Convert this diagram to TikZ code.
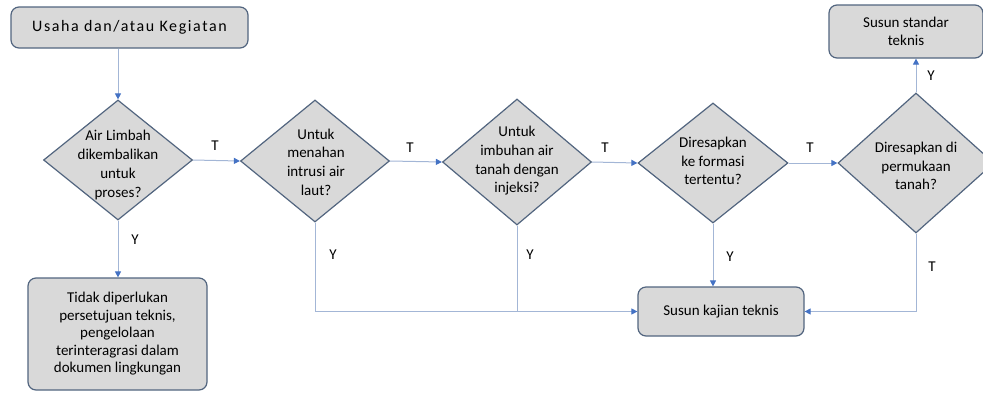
\documentclass[tikz,border=0pt]{standalone}
\usepackage{fontspec}
\setmainfont{Carlito}
\usetikzlibrary{shapes.geometric,arrows.meta}
\definecolor{boxfill}{HTML}{D9D9D9}
\definecolor{boxline}{HTML}{52657F}
\definecolor{connc}{HTML}{A3B6D6}
\definecolor{tipc}{HTML}{4472C4}
\begin{document}
\begin{tikzpicture}[x=1pt,y=-1pt,
  box/.style={draw=boxline, fill=boxfill, rounded corners=8pt, line width=1.2pt, align=center, inner sep=0pt, font=\fontsize{15}{18}\selectfont},
  dia/.style={draw=boxline, fill=boxfill, diamond, line width=1.2pt, inner sep=0pt},
  dtext/.style={align=center, inner sep=0pt, font=\fontsize{15}{18.7}\selectfont},
  connline/.style={draw=connc, line width=1pt},
  arr/.style={connline, -{Triangle[length=6pt,width=6pt,color=tipc,fill=tipc]}},
  lbl/.style={inner sep=0pt, font=\fontsize{15}{17}\selectfont}]
\useasboundingbox (0,0) rectangle (983,392);

\node[box, minimum width=237pt, minimum height=41pt, font=\fontsize{16}{18}\selectfont\addfontfeature{LetterSpace=10}] (top) at (129.5,27.5) {Usaha dan/atau Kegiatan};

\node[dia, minimum width=149pt, minimum height=120pt] (d1) at (118,160) {};
\node[dtext] (d1t) at (118,165) {Air Limbah\\dikembalikan\\untuk\\proses?};

\node[dia, minimum width=149pt, minimum height=122pt] (d2) at (315,161) {};
\node[dtext] (d2t) at (316,162) {Untuk\\menahan\\intrusi  air\\laut?};

\node[dia, minimum width=149pt, minimum height=126pt] (d3) at (517,162) {};
\node[dtext] (d3t) at (517,161) {Untuk\\imbuhan air\\tanah dengan\\injeksi?};

\node[dia, minimum width=150pt, minimum height=120pt] (d4) at (713,163) {};
\node[dtext] (d4t) at (713,161) {Diresapkan\\ke formasi\\tertentu?};

\node[dia, minimum width=156pt, minimum height=140pt] (d5) at (916,163) {};
\node[dtext] (d5t) at (916,166) {Diresapkan di\\permukaan\\tanah?};

\node[box, minimum width=179pt, minimum height=112pt, font=\fontsize{15}{17.5}\selectfont] (tidak) at (117.5,334) {Tidak diperlukan\\persetujuan  teknis,\\pengelolaan\\terinteragrasi  dalam\\dokumen lingkungan};

\node[box, minimum width=154pt, minimum height=53pt] (standar) at (906,31.5) {Susun standar\\teknis};

\node[box, minimum width=166pt, minimum height=49pt] (kajian) at (721,311.5) {Susun kajian teknis};

% connectors
\draw[arr] (d1.north |- top.south) -- (d1.north);
\draw[arr] (d1.south) -- (tidak.north -| d1.south);
\draw[arr] (d1.east) -- (d2.west);
\draw[arr] (d2.east) -- (d3.west);
\draw[arr] (d3.east) -- (d4.west);
\draw[arr] (d4.east) -- (d5.west);
\draw[arr] (d5.north) -- (standar.south -| d5.north);
\draw[arr] (d4.south) -- (kajian.north -| d4.south);
\draw[arr] (d2.south) |- (kajian.west);
\draw[connline] (d3.south) -- (d3.south |- kajian.west);
\draw[arr] (d5.south) |- (kajian.east);

% labels
\node[lbl] (t1) at (215,146) {T};
\node[lbl] (t2) at (410,148) {T};
\node[lbl] (t3) at (605,148) {T};
\node[lbl] (t4) at (810,148) {T};
\node[lbl] (t5) at (932,267) {T};
\node[lbl] (y1) at (135,240) {Y};
\node[lbl] (y2) at (333,255) {Y};
\node[lbl] (y3) at (530,255) {Y};
\node[lbl] (y4) at (730,257) {Y};
\node[lbl] (y5) at (931,76) {Y};
\end{tikzpicture}
\end{document}
